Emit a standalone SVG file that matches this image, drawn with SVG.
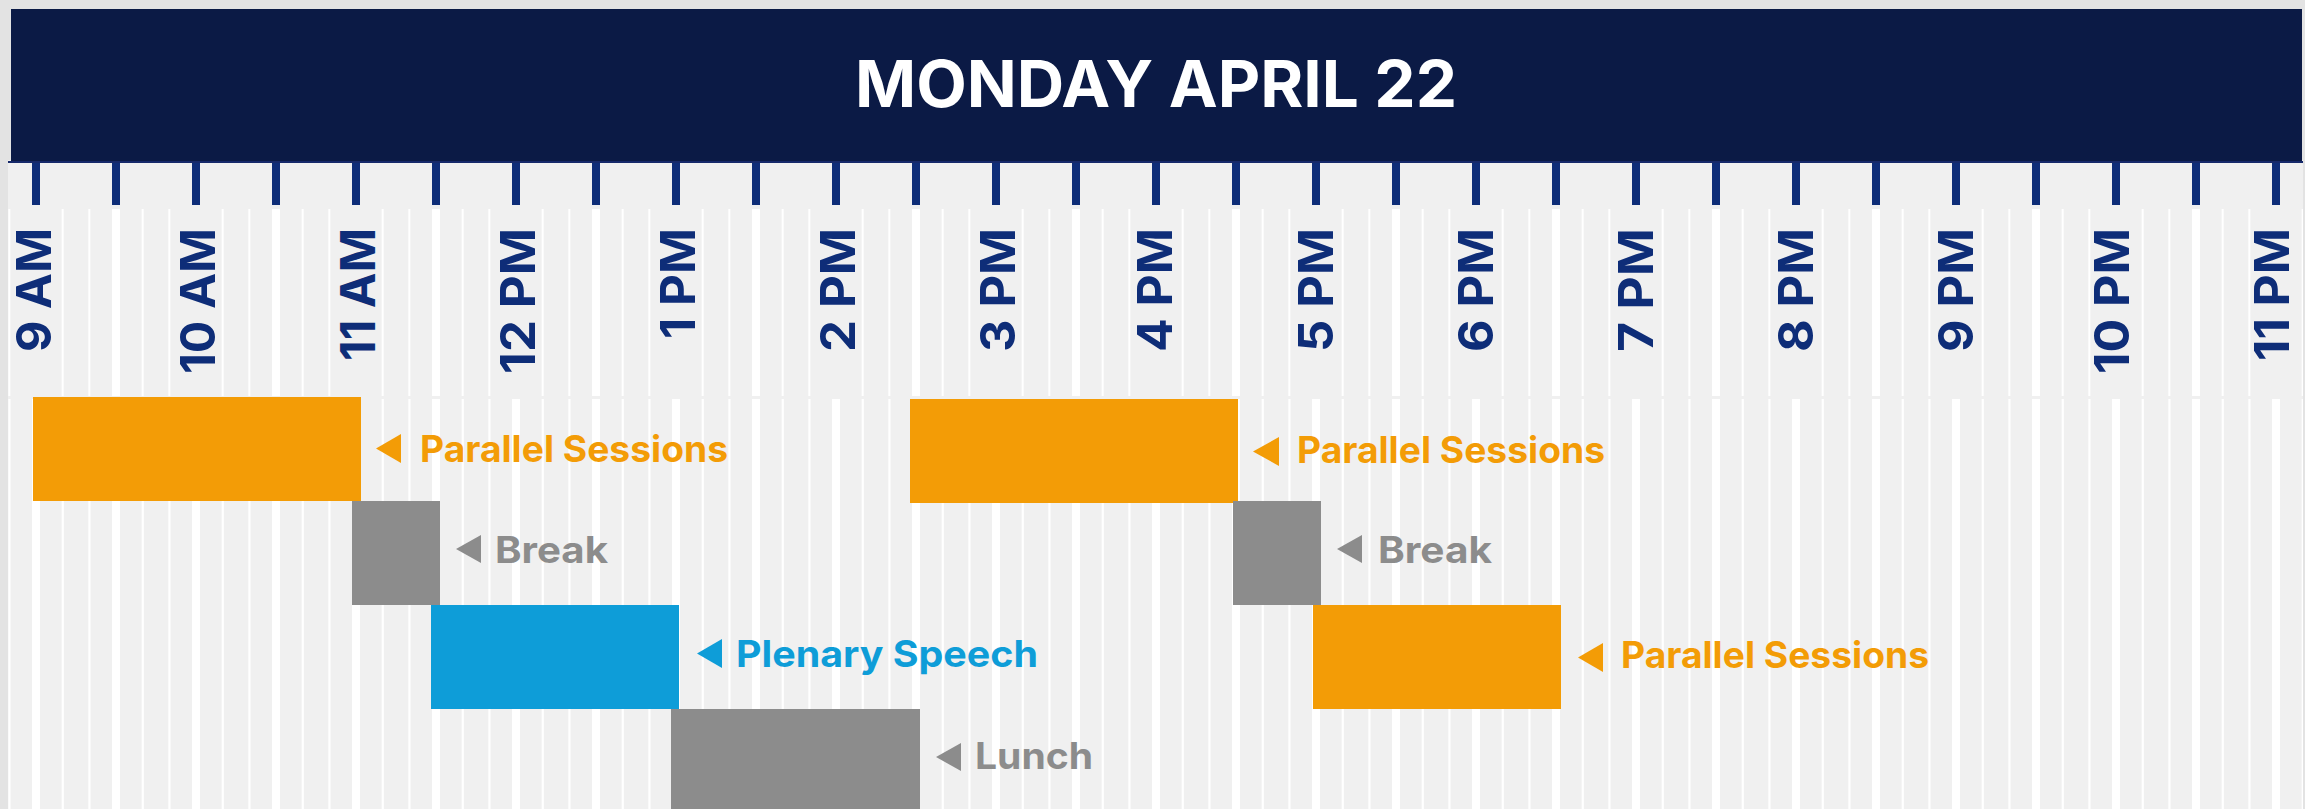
<svg xmlns="http://www.w3.org/2000/svg" width="2305" height="809" viewBox="0 0 2305 809">
  <style>
    .lbl { font-family: Inter, "Liberation Sans", sans-serif; font-weight: 700; font-size: 37px; }
    .axis { font-family: Inter, "Liberation Sans", sans-serif; font-weight: 700; font-size: 48px; fill: #0e2d78; }
    .title { font-family: Inter, "Liberation Sans", sans-serif; font-weight: 700; font-size: 64px; fill: #ffffff; }
    .orange { fill: #f39c06; }
    .gray { fill: #8c8c8c; }
    .blue { fill: #0e9dd8; }
  </style>
  <defs>
    <pattern id="gBody" patternUnits="userSpaceOnUse" x="-4" y="0" width="80" height="809">
      <rect x="36" y="0" width="8" height="809" fill="#ffffff"/>
      <rect x="12.33" y="0" width="2.2" height="809" fill="#ffffff"/>
      <rect x="65.67" y="0" width="2.2" height="809" fill="#ffffff"/>
    </pattern>
    <pattern id="gLabel" patternUnits="userSpaceOnUse" x="-4" y="0" width="160" height="809">
      <rect x="116" y="0" width="8" height="809" fill="#ffffff"/>
      <rect x="12.33" y="0" width="2" height="809" fill="#ffffff"/>
      <rect x="65.67" y="0" width="2" height="809" fill="#ffffff"/>
      <rect x="92.33" y="0" width="2" height="809" fill="#ffffff"/>
      <rect x="145.67" y="0" width="2" height="809" fill="#ffffff"/>
    </pattern>
    <pattern id="gTicks" patternUnits="userSpaceOnUse" x="-4" y="0" width="80" height="809">
      <rect x="36" y="0" width="8" height="809" fill="#0e2d78"/>
    </pattern>
  </defs>

  <!-- background -->
  <rect x="0" y="0" width="2305" height="809" fill="#e3e3e3"/>
  <rect x="8" y="160" width="2295" height="649" fill="#f0f0f0"/>

  <!-- header -->
  <g id="header">
    <rect x="11" y="9" width="2291" height="153" fill="#0b1a45"/>
    <rect x="8" y="161" width="2295" height="2" fill="#16296a"/>
    <text class="title" x="1156" y="107" text-anchor="middle" textLength="602" lengthAdjust="spacingAndGlyphs">MONDAY APRIL 22</text>
  </g>

  <!-- grid -->
  <g id="grid">
    <rect x="8" y="163" width="2295" height="42" fill="url(#gTicks)"/>
    <rect x="8" y="209" width="2295" height="187" fill="url(#gLabel)"/>
    <rect x="8" y="399" width="2295" height="410" fill="url(#gBody)"/>
  </g>

  <!-- time axis -->
  <g id="axis">
    <text class="axis" transform="translate(51,228) rotate(-90)" text-anchor="end" textLength="124" lengthAdjust="spacingAndGlyphs">9 AM</text>
    <text class="axis" transform="translate(215,228) rotate(-90)" text-anchor="end" textLength="146" lengthAdjust="spacingAndGlyphs">10 AM</text>
    <text class="axis" transform="translate(375,228) rotate(-90)" text-anchor="end" textLength="133" lengthAdjust="spacingAndGlyphs">11 AM</text>
    <text class="axis" transform="translate(535,228) rotate(-90)" text-anchor="end" textLength="146" lengthAdjust="spacingAndGlyphs">12 PM</text>
    <text class="axis" transform="translate(695,228) rotate(-90)" text-anchor="end" textLength="111" lengthAdjust="spacingAndGlyphs">1 PM</text>
    <text class="axis" transform="translate(855,228) rotate(-90)" text-anchor="end" textLength="124" lengthAdjust="spacingAndGlyphs">2 PM</text>
    <text class="axis" transform="translate(1015,228) rotate(-90)" text-anchor="end" textLength="124" lengthAdjust="spacingAndGlyphs">3 PM</text>
    <text class="axis" transform="translate(1172,228) rotate(-90)" text-anchor="end" textLength="124" lengthAdjust="spacingAndGlyphs">4 PM</text>
    <text class="axis" transform="translate(1333,228) rotate(-90)" text-anchor="end" textLength="124" lengthAdjust="spacingAndGlyphs">5 PM</text>
    <text class="axis" transform="translate(1493,228) rotate(-90)" text-anchor="end" textLength="124" lengthAdjust="spacingAndGlyphs">6 PM</text>
    <text class="axis" transform="translate(1653,228) rotate(-90)" text-anchor="end" textLength="124" lengthAdjust="spacingAndGlyphs">7 PM</text>
    <text class="axis" transform="translate(1813,228) rotate(-90)" text-anchor="end" textLength="124" lengthAdjust="spacingAndGlyphs">8 PM</text>
    <text class="axis" transform="translate(1973,228) rotate(-90)" text-anchor="end" textLength="124" lengthAdjust="spacingAndGlyphs">9 PM</text>
    <text class="axis" transform="translate(2129,228) rotate(-90)" text-anchor="end" textLength="146" lengthAdjust="spacingAndGlyphs">10 PM</text>
    <text class="axis" transform="translate(2289,228) rotate(-90)" text-anchor="end" textLength="133" lengthAdjust="spacingAndGlyphs">11 PM</text>
  </g>

  <!-- connectors (none besides label pointers) -->
  <g id="connectors"></g>

  <!-- sessions -->
  <g id="parallel-1">
    <rect class="orange" x="33" y="397" width="328" height="104"/>
    <polygon class="orange" points="401,434 401,463 376,448.5"/>
    <text class="lbl orange" x="420" y="462" textLength="308" lengthAdjust="spacingAndGlyphs">Parallel Sessions</text>
  </g>
  <g id="break-1">
    <rect class="gray" x="352" y="501" width="88" height="104"/>
    <polygon class="gray" points="481,535 481,563 456,549"/>
    <text class="lbl gray" x="495" y="563" textLength="113" lengthAdjust="spacingAndGlyphs">Break</text>
  </g>
  <g id="plenary">
    <rect class="blue" x="431" y="605" width="248" height="104"/>
    <polygon class="blue" points="722,639 722,668 697,653.5"/>
    <text class="lbl blue" x="736" y="667" textLength="302" lengthAdjust="spacingAndGlyphs">Plenary Speech</text>
  </g>
  <g id="lunch">
    <rect class="gray" x="671" y="709" width="249" height="100"/>
    <polygon class="gray" points="961,743 961,771 936,757"/>
    <text class="lbl gray" x="975" y="769" textLength="118" lengthAdjust="spacingAndGlyphs">Lunch</text>
  </g>
  <g id="parallel-2">
    <rect class="orange" x="910" y="399" width="328" height="104"/>
    <polygon class="orange" points="1279,437 1279,466 1253,451.5"/>
    <text class="lbl orange" x="1297" y="463" textLength="308" lengthAdjust="spacingAndGlyphs">Parallel Sessions</text>
  </g>
  <g id="break-2">
    <rect class="gray" x="1233" y="501" width="88" height="104"/>
    <polygon class="gray" points="1362,535 1362,563 1337,549"/>
    <text class="lbl gray" x="1378" y="563" textLength="114" lengthAdjust="spacingAndGlyphs">Break</text>
  </g>
  <g id="parallel-3">
    <rect class="orange" x="1313" y="605" width="248" height="104"/>
    <polygon class="orange" points="1603,643 1603,672 1578,657.5"/>
    <text class="lbl orange" x="1621" y="668" textLength="308" lengthAdjust="spacingAndGlyphs">Parallel Sessions</text>
  </g>
</svg>
